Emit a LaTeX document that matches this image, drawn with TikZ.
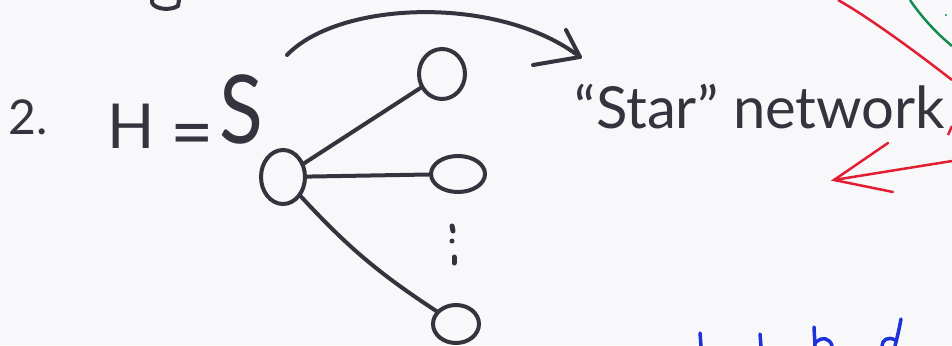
\documentclass[tikz,border=0pt]{standalone}
\usepackage{fontspec}
\setmainfont{Lato}
\usetikzlibrary{shapes.geometric}
\definecolor{bg}{RGB}{248,248,250}
\definecolor{ink}{RGB}{52,52,62}
\definecolor{redink}{RGB}{226,30,50}
\definecolor{greenink}{RGB}{20,140,80}
\definecolor{blueink}{RGB}{30,50,220}
\tikzset{
  pen/.style={draw=ink,line width=4pt,line cap=round,line join=round},
  vertex/.style={ellipse,draw=ink,line width=4pt,inner sep=0pt},
  hand/.style={text=ink,inner sep=0pt,anchor=base},
}
\begin{document}
\begin{tikzpicture}[x=1pt,y=-1pt]
\fill[bg] (0,0) rectangle (952,345);
\useasboundingbox (0,0) rectangle (952,345);
\clip (0,0) rectangle (952,345);

% partial stroke at top left
\draw[pen] (152,0) .. controls (150,8) and (168,12) .. (178,6) -- (179,0);

% labels
\node[hand,font=\fontsize{48}{52}\selectfont] (num) at (28,134) {2.};
\node[hand,font=\fontsize{62}{66}\selectfont] (H) at (131,148) {H};
\node[hand,font=\fontsize{75}{80}\selectfont] (eq) at (192,158) {=};
\node[hand,font=\fontsize{95}{100}\selectfont,xscale=0.85] (S) at (241,143) {S};

% star graph
\node[vertex,minimum width=44pt,minimum height=54pt] (hub) at (283,177) {};
\node[vertex,minimum width=46pt,minimum height=50pt] (l1) at (442,74) {};
\node[vertex,minimum width=54pt,minimum height=36pt] (l2) at (458,174) {};
\node[vertex,minimum width=46pt,minimum height=38pt] (l3) at (456,324) {};
\draw[pen] (hub) -- (l1);
\draw[pen] (hub) -- (l2);
\draw[pen] (hub) to[bend right=7] (l3);

% vertical dots
\coordinate (d1) at (452,226);
\coordinate (d2) at (453,231);
\coordinate (d3) at (452,241);
\coordinate (d4) at (454,257);
\coordinate (d5) at (454,263);
\draw[pen,line width=5pt] (d1) -- (d2);
\draw[pen,line width=5pt] (d3) -- (d3);
\draw[pen,line width=5pt] (d4) -- (d5);

% curved arrow
\coordinate (a0) at (287,55);
\coordinate (a1) at (580,57);
\coordinate (b1) at (533,65);
\coordinate (b2) at (566,30);
\draw[pen] (a0) .. controls (340,0) and (500,-5) .. (a1);
\draw[pen] (b1) -- (a1) -- (b2);

% caption
\node[hand,font=\fontsize{58}{62}\selectfont] (cap) at (760,128) {“Star” network};

% red strokes
\draw[draw=redink,line width=2.5pt] (838,0) .. controls (870,18) and (920,55) .. (952,80);
\draw[draw=redink,line width=2.5pt] (948,135) -- (952,126);
\coordinate (r0) at (952,161);
\coordinate (r1) at (834,180);
\coordinate (r2) at (888,143);
\coordinate (r3) at (893,192);
\draw[draw=redink,line width=2.5pt,line cap=round] (r0) -- (r1);
\draw[draw=redink,line width=2.5pt,line cap=round] (r2) -- (r1) -- (r3);

% green stroke
\draw[draw=greenink,line width=2.5pt] (910,0) .. controls (920,15) and (935,32) .. (952,46);
\fill[greenink] (946,15) circle (1.2pt);

% blue partial text at bottom
\draw[draw=blueink,line width=3.5pt,line cap=round] (700,333) -- (701,346);
\draw[draw=blueink,line width=3.5pt,line cap=round] (760,334) -- (761,346);
\draw[draw=blueink,line width=3.5pt,line cap=round] (814,327) -- (815,346);
\draw[draw=blueink,line width=3.5pt,line cap=round] (815,343) .. controls (822,336) and (830,338) .. (832,346);
\draw[draw=blueink,line width=3.5pt,line cap=round] (901,319) .. controls (899,330) and (897,338) .. (895,346);
\draw[draw=blueink,line width=3.5pt,line cap=round] (895,340) .. controls (888,336) and (882,340) .. (882,346);
\end{tikzpicture}
\end{document}
